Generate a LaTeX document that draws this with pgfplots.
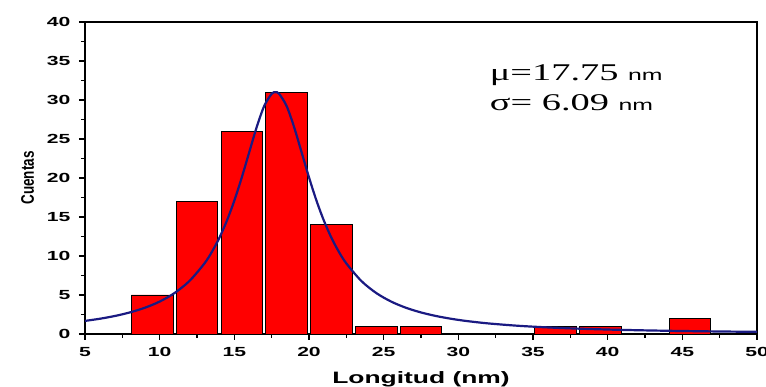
\documentclass[border=0pt]{standalone}
\usepackage{fontspec}
\setmainfont[FakeStretch=1.6]{Liberation Sans}
\newfontfamily\plainsans{Liberation Sans}
\newfontfamily\serifwide[FakeStretch=1.6]{Liberation Serif}
\usepackage{graphicx}
\usepackage{pgfplots}
\pgfplotsset{compat=1.18}
\definecolor{barred}{RGB}{255,0,0}
\definecolor{fitblue}{RGB}{26,26,130}
\begin{document}
\begin{tikzpicture}
\path[use as bounding box] (-85pt,-53pt) rectangle (681pt,334pt);
\begin{axis}[
  at={(0,0)}, anchor=south west,
  scale only axis, width=672pt, height=312pt,
  xmin=5, xmax=50, ymin=0, ymax=40,
  xtick distance=5, ytick distance=5,
  minor tick num=1,
  tick align=outside,
  xtick pos=left, ytick pos=left,
  major tick length=6pt, minor tick length=4pt,
  every tick/.style={black, line width=1.6pt},
  axis line style={line width=1.8pt},
  /pgf/number format/assume math mode=true,
  ticklabel style={font=\fontsize{13.2}{15}\selectfont\bfseries},
  yticklabel style={xshift=-5pt},
  xticklabel style={yshift=-4pt},
  xlabel={\fontsize{16.5}{18}\selectfont\bfseries Longitud (nm)},
  xlabel style={yshift=-8pt},
  ylabel={\scalebox{1}[1.35]{\plainsans\fontsize{13.5}{15}\selectfont\bfseries Cuentas}},
  ylabel style={yshift=6pt},
  clip=true,
]
\addplot[ybar, bar width=2.78, fill=barred, draw=black, line width=0.8pt]
  coordinates {(9.5,5) (12.5,17) (15.5,26) (18.5,31) (21.5,14) (24.5,1) (27.5,1) (36.5,1) (39.5,1) (45.5,2)};
\addplot[fitblue, line width=2.2pt, smooth] coordinates {
(5,1.677) (6,1.957) (7,2.309) (8,2.763) (9,3.358) (10,4.157) (11,5.256) (12,6.807)
(13,9.051) (13.5,10.54) (14,12.34) (14.5,14.52) (15,17.10) (15.5,20.08) (16,23.32)
(16.5,26.54) (17,29.23) (17.5,30.79) (17.75,31) (18,30.79) (18.5,29.23) (19,26.54)
(19.5,23.32) (20,20.08) (20.5,17.10) (21,14.52) (21.5,12.34) (22,10.54) (22.5,9.051)
(23.5,6.807) (24.5,5.256) (25.5,4.157) (26.5,3.358) (27.5,2.763) (28.5,2.309)
(29.5,1.957) (30.5,1.677) (32,1.358) (34,1.055) (36,0.842) (38,0.688) (40,0.572)
(42,0.483) (44,0.413) (46,0.357) (48,0.312) (50,0.275)};
\node[anchor=base west, inner sep=0pt] at (axis cs:32.1,32.5)
  {\serifwide\fontsize{24}{28}\selectfont μ=17.75 {\fontsize{15.5}{18}\selectfont\rmfamily nm}};
\node[anchor=base west, inner sep=0pt] at (axis cs:32.1,28.7)
  {\serifwide\fontsize{24}{28}\selectfont σ= 6.09 {\fontsize{15.5}{18}\selectfont\rmfamily nm}};
\end{axis}
\end{tikzpicture}
\end{document}
